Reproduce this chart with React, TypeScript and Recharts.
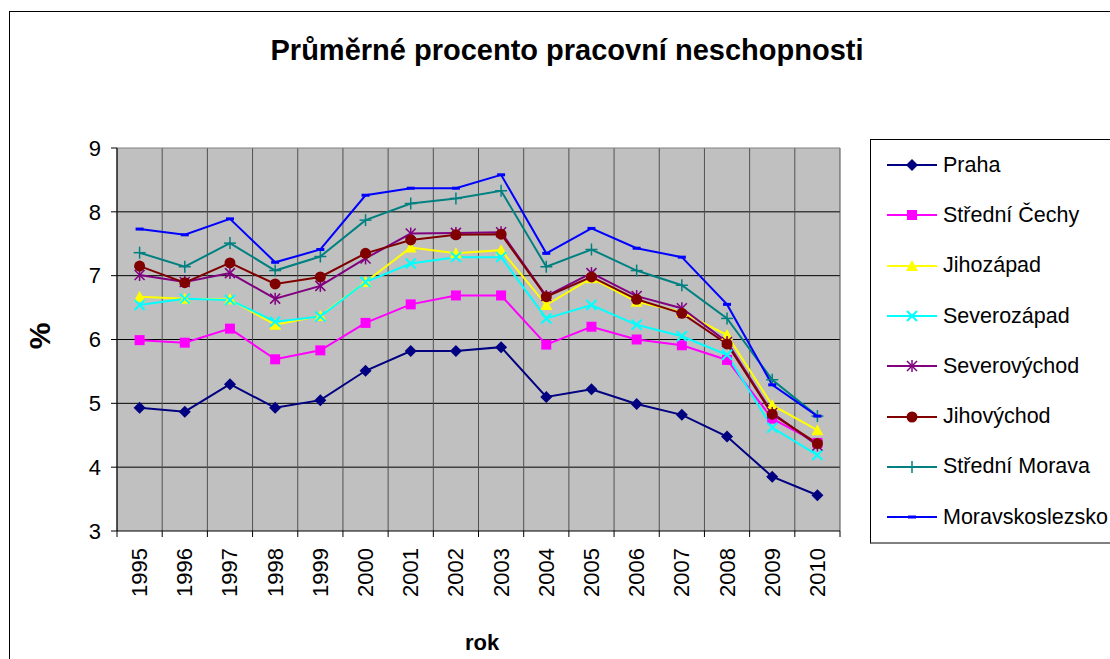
import React from 'react';
import {
  LineChart,
  Line,
  CartesianGrid,
  XAxis,
  YAxis,
  Legend,
  ReferenceLine,
} from 'recharts';

const YEARS = ['1995', '1996', '1997', '1998', '1999', '2000', '2001', '2002', '2003', '2004', '2005', '2006', '2007', '2008', '2009', '2010'];

const PRAHA = [4.93, 4.87, 5.3, 4.93, 5.05, 5.51, 5.82, 5.82, 5.88, 5.1, 5.22, 4.99, 4.82, 4.48, 3.85, 3.56];
const STREDNI_CECHY = [5.99, 5.95, 6.17, 5.69, 5.83, 6.26, 6.55, 6.69, 6.69, 5.92, 6.2, 6.0, 5.91, 5.68, 4.76, 4.38];
const JIHOZAPAD = [6.67, 6.64, 6.63, 6.23, 6.37, 6.9, 7.44, 7.35, 7.4, 6.54, 6.96, 6.59, 6.43, 6.07, 4.97, 4.58];
const SEVEROZAPAD = [6.54, 6.64, 6.62, 6.28, 6.36, 6.9, 7.19, 7.29, 7.29, 6.33, 6.54, 6.23, 6.05, 5.76, 4.62, 4.19];
const SEVEROVYCHOD = [7.01, 6.9, 7.04, 6.64, 6.84, 7.27, 7.66, 7.67, 7.68, 6.68, 7.04, 6.68, 6.49, 5.96, 4.85, 4.34];
const JIHOVYCHOD = [7.15, 6.89, 7.2, 6.87, 6.98, 7.35, 7.56, 7.64, 7.65, 6.67, 6.98, 6.63, 6.41, 5.93, 4.83, 4.37];
const STREDNI_MORAVA = [7.36, 7.14, 7.51, 7.08, 7.3, 7.87, 8.13, 8.21, 8.33, 7.14, 7.41, 7.08, 6.85, 6.33, 5.37, 4.8];
const MORAVSKOSLEZSKO = [7.73, 7.64, 7.89, 7.21, 7.41, 8.26, 8.37, 8.37, 8.58, 7.35, 7.74, 7.43, 7.29, 6.55, 5.29, 4.8];

const Y_TICKS = [3, 4, 5, 6, 7, 8, 9];

type Shape = 'diamond' | 'square' | 'triangle' | 'x' | 'star' | 'circle' | 'plus' | 'dash';

const SERIES: { key: string; name: string; color: string; shape: Shape; values: number[] }[] = [
  { key: 'praha', name: 'Praha', color: '#000080', shape: 'diamond', values: PRAHA },
  { key: 'sc', name: 'Střední Čechy', color: '#FF00FF', shape: 'square', values: STREDNI_CECHY },
  { key: 'jz', name: 'Jihozápad', color: '#FFFF00', shape: 'triangle', values: JIHOZAPAD },
  { key: 'sz', name: 'Severozápad', color: '#00FFFF', shape: 'x', values: SEVEROZAPAD },
  { key: 'sv', name: 'Severovýchod', color: '#800080', shape: 'star', values: SEVEROVYCHOD },
  { key: 'jv', name: 'Jihovýchod', color: '#800000', shape: 'circle', values: JIHOVYCHOD },
  { key: 'sm', name: 'Střední Morava', color: '#008080', shape: 'plus', values: STREDNI_MORAVA },
  { key: 'ms', name: 'Moravskoslezsko', color: '#0000FF', shape: 'dash', values: MORAVSKOSLEZSKO },
];

const data = YEARS.map((year, i) => {
  const row: Record<string, number | string> = { i, year };
  SERIES.forEach((s) => {
    row[s.key] = s.values[i];
  });
  return row;
});

// tick marks sit between the years, labels at the years
const BOUNDARY_TICKS = YEARS.map((_, i) => i - 0.5).concat(YEARS.length - 0.5);
const LABEL_TICKS = YEARS.map((_, i) => i);

const FONT = '"Liberation Sans", Arial, sans-serif';

function Marker({ shape, color, cx, cy }: { shape: Shape; color: string; cx: number; cy: number }) {
  switch (shape) {
    case 'diamond':
      return <polygon points={`${cx},${cy - 6} ${cx + 6},${cy} ${cx},${cy + 6} ${cx - 6},${cy}`} fill={color} />;
    case 'square':
      return <rect x={cx - 5} y={cy - 5} width={10} height={10} fill={color} />;
    case 'triangle':
      return <polygon points={`${cx},${cy - 6} ${cx + 6},${cy + 5} ${cx - 6},${cy + 5}`} fill={color} />;
    case 'x':
      return (
        <g stroke={color} strokeWidth={2}>
          <line x1={cx - 5} y1={cy - 5} x2={cx + 5} y2={cy + 5} />
          <line x1={cx - 5} y1={cy + 5} x2={cx + 5} y2={cy - 5} />
        </g>
      );
    case 'star':
      return (
        <g stroke={color} strokeWidth={1.5}>
          <line x1={cx - 5} y1={cy - 5} x2={cx + 5} y2={cy + 5} />
          <line x1={cx - 5} y1={cy + 5} x2={cx + 5} y2={cy - 5} />
          <line x1={cx} y1={cy - 6} x2={cx} y2={cy + 6} />
        </g>
      );
    case 'circle':
      return <circle cx={cx} cy={cy} r={5.5} fill={color} />;
    case 'plus':
      return (
        <g stroke={color} strokeWidth={1.5}>
          <line x1={cx - 6} y1={cy} x2={cx + 6} y2={cy} />
          <line x1={cx} y1={cy - 6} x2={cx} y2={cy + 6} />
        </g>
      );
    default:
      return <rect x={cx - 4} y={cy - 1.5} width={8} height={3} fill={color} />;
  }
}

function makeDot(shape: Shape, color: string) {
  return (props: any) => {
    const { cx, cy, index } = props;
    if (cx == null || cy == null) return <g key={`d-${index}`} />;
    return (
      <g key={`d-${index}`}>
        <Marker shape={shape} color={color} cx={cx} cy={cy} />
      </g>
    );
  };
}

function YearTick(props: any) {
  const { x, y, payload } = props;
  return (
    <text
      x={x}
      y={y}
      transform={`rotate(-90, ${x}, ${y})`}
      textAnchor="end"
      dominantBaseline="central"
      fontSize={22}
      fontFamily={FONT}
      fill="#000"
    >
      {YEARS[payload.value]}
    </text>
  );
}

function LegendBox() {
  return (
    <div
      style={{
        width: 300,
        height: 402,
        border: '1px solid #000',
        borderBottom: '2px solid #808080',
        background: '#fff',
        fontFamily: FONT,
      }}
    >
      {SERIES.map((s) => (
        <div key={s.key} style={{ height: 50.3, display: 'flex', alignItems: 'center' }}>
          <svg width={72} height={20} style={{ flexShrink: 0 }}>
            <line x1={16} y1={10} x2={66} y2={10} stroke={s.color} strokeWidth={2} />
            <Marker shape={s.shape} color={s.color} cx={41} cy={10} />
          </svg>
          <span style={{ fontSize: 21.5, color: '#000', whiteSpace: 'nowrap' }}>{s.name}</span>
        </div>
      ))}
    </div>
  );
}

export default function App() {
  return (
    <div
      style={{
        position: 'absolute',
        left: 0,
        top: 0,
        width: 1110,
        height: 659,
        overflow: 'hidden',
        background: '#fff',
        fontFamily: FONT,
      }}
    >
      <div
        style={{
          position: 'absolute',
          left: 9,
          top: 11,
          width: 1300,
          height: 800,
          border: '1px solid #000',
        }}
      />
      <LineChart
        width={1110}
        height={659}
        data={data}
        margin={{ top: 148, right: 270, left: 77, bottom: 57 }}
      >
        <CartesianGrid fill="#C0C0C0" vertical={false} horizontalValues={[4, 5, 6, 7, 8]} stroke="#000" strokeOpacity={1} />
        <CartesianGrid horizontal={false} stroke="#505050" strokeOpacity={1} />
        <ReferenceLine y={9} stroke="#808080" />
        <XAxis
          dataKey="i"
          type="number"
          domain={[-0.5, YEARS.length - 0.5]}
          ticks={BOUNDARY_TICKS}
          tickFormatter={() => ''}
          height={1}
          tickSize={6}
          axisLine={{ stroke: '#000' }}
          tickLine={{ stroke: '#000' }}
          interval={0}
        />
        <XAxis
          xAxisId="lbl"
          dataKey="i"
          type="number"
          domain={[-0.5, YEARS.length - 0.5]}
          ticks={LABEL_TICKS}
          height={70}
          tickSize={0}
          tickMargin={16}
          axisLine={false}
          tickLine={false}
          tick={<YearTick />}
          interval={0}
        />
        <YAxis
          type="number"
          domain={[3, 9]}
          ticks={Y_TICKS}
          width={40}
          tickSize={6}
          tickMargin={10}
          axisLine={{ stroke: '#000' }}
          tickLine={{ stroke: '#000' }}
          tick={{ fontSize: 22, fill: '#000', fontFamily: FONT }}
          interval={0}
        />
        <Legend
          layout="vertical"
          align="center"
          verticalAlign="middle"
          wrapperStyle={{ left: 870, top: 139, width: 300, height: 404 }}
          content={() => <LegendBox />}
        />
        {SERIES.map((s) => (
          <Line
            key={s.key}
            type="linear"
            dataKey={s.key}
            name={s.name}
            stroke={s.color}
            strokeWidth={2}
            dot={makeDot(s.shape, s.color)}
            activeDot={false}
            isAnimationActive={false}
          />
        ))}
      </LineChart>
      <div
        style={{
          position: 'absolute',
          left: 0,
          width: 1134,
          top: 34,
          textAlign: 'center',
          fontSize: 29,
          fontWeight: 'bold',
          lineHeight: '32px',
          color: '#000',
        }}
      >
        Průměrné procento pracovní neschopnosti
      </div>
      <div
        style={{
          position: 'absolute',
          left: 40,
          top: 336,
          transform: 'translate(-50%, -50%) rotate(-90deg)',
          fontSize: 30,
          fontWeight: 'bold',
          lineHeight: '30px',
          color: '#000',
        }}
      >
        %
      </div>
      <div
        style={{
          position: 'absolute',
          left: 482,
          top: 643,
          transform: 'translate(-50%, -50%)',
          fontSize: 22,
          fontWeight: 'bold',
          lineHeight: '24px',
          color: '#000',
        }}
      >
        rok
      </div>
    </div>
  );
}
